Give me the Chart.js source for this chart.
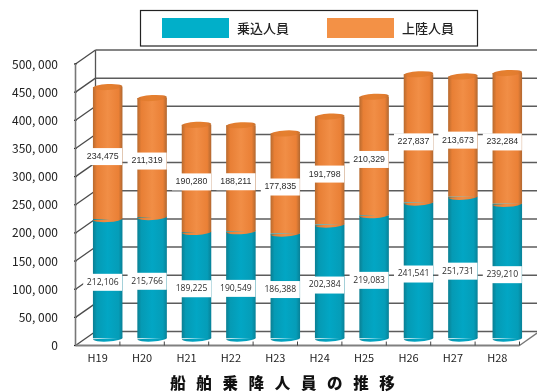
<!DOCTYPE html>
<html lang="ja">
<head>
<meta charset="utf-8">
<style>html,body{margin:0;padding:0;background:#fff}#wrap{width:537px;height:392px}</style>
<script src="https://cdn.jsdelivr.net/npm/chart.js@4/dist/chart.umd.min.js"></script>
</head>
<body>
<div id="wrap"><canvas id="c" width="537" height="392"></canvas></div>
<script>
// 船舶乗降人員 by fiscal year
const categories = ['H19','H20','H21','H22','H23','H24','H25','H26','H27','H28'];
const boarding = [212106,215766,189225,190549,186388,202384,219083,241541,251731,239210];
const landing = [234475,211319,190280,188211,177835,191798,210329,227837,213673,232284];
const seriesNames = ['乗込人員','上陸人員'];
const chartTitle = '船   舶   乗   降   人   員   の   推   移';

// Pseudo-3D depth: half of the box depth on each side of the bar plane.
const DEPTH_X = 10, DEPTH_Y = 7;
const CAP_RY = 3, CAP_TILT = -0.055;

const ramps = [
  ['#0b7d90','#059ab4','#02a6c4','#059db8','#087f95'],
  ['#b5692e','#e87f35','#f18e46','#ea8036','#ad6630']
];

function barGradient(ctx, cx, half, stops) {
  const g = ctx.createLinearGradient(cx - half, 0, cx + half, 0);
  [0, .14, .5, .86, 1].forEach((p, i) => g.addColorStop(p, stops[i]));
  return g;
}

const bars = (ds) => (c) => {
  const x = c.chart.scales.x;
  const cx = x && c.dataIndex !== undefined ? x.getPixelForValue(c.dataIndex) : NaN;
  if (!Number.isFinite(cx)) return ramps[ds][2];
  return barGradient(c.chart.ctx, cx, 15, ramps[ds]);
};

// Back wall, side wall, floor and axis lines of the box.
const boxPlugin = {
  id: 'box',
  afterLayout(chart) {
    // The y scale clips its labels to its own box, so let it reach the canvas edge.
    chart.scales.y.left = 0;
  },
  beforeDatasetsDraw(chart) {
    const {ctx, scales:{x, y}, chartArea:a} = chart;
    const left = a.left, right = a.right;
    const line = (x1, y1, x2, y2, color, w) => {
      ctx.beginPath(); ctx.moveTo(x1, y1); ctx.lineTo(x2, y2);
      ctx.strokeStyle = color; ctx.lineWidth = w; ctx.stroke();
    };
    ctx.save();
    y.ticks.forEach(t => {
      const py = y.getPixelForValue(t.value);
      line(left + DEPTH_X, py - DEPTH_Y, right + DEPTH_X + 4, py - DEPTH_Y, '#5c5c5c', 1.5);
      line(left - DEPTH_X, py + DEPTH_Y, left + DEPTH_X, py - DEPTH_Y, '#4a4a4a', 1.3);
      line(left - DEPTH_X - 1.5, py + DEPTH_Y, left - DEPTH_X + 1, py + DEPTH_Y, '#111', 1.2);
    });
    const y0 = y.getPixelForValue(0), yMax = y.getPixelForValue(y.max);
    line(left - DEPTH_X, yMax + DEPTH_Y, left - DEPTH_X, y0 + DEPTH_Y, '#777', 1.6);
    line(left + DEPTH_X, yMax - DEPTH_Y, left + DEPTH_X, y0 - DEPTH_Y, '#555', 1.3);
    line(left - DEPTH_X, y0 + DEPTH_Y, right - DEPTH_X, y0 + DEPTH_Y, '#808080', 1.8);
    line(right - DEPTH_X, y0 + DEPTH_Y, right + DEPTH_X + 4, y0 - DEPTH_Y - 3, '#777', 1.3);
    categories.forEach((_, i) => {
      const px = x.getPixelForValue(i) + x.width / categories.length / 2 - DEPTH_X;
      line(px, y0 + DEPTH_Y - 4, px, y0 + DEPTH_Y, '#444', 1);
    });
    ctx.restore();
  }
};

// Cylinder ends, value labels and legend box.
const finishPlugin = {
  id: 'finish',
  afterDatasetsDraw(chart) {
    const {ctx} = chart;
    const metas = [chart.getDatasetMeta(0), chart.getDatasetMeta(1)];
    ctx.save();
    // Rounded lower edge of each cylinder segment
    metas.forEach((meta, d) => meta.data.forEach(b => {
      const half = b.width / 2;
      ctx.beginPath();
      ctx.ellipse(b.x, b.base, half, CAP_RY, CAP_TILT, 0, Math.PI);
      ctx.fillStyle = barGradient(ctx, b.x, half, ramps[d]);
      ctx.fill();
    }));
    // Top cap
    metas[1].data.forEach(b => {
      const half = b.width / 2;
      ctx.beginPath();
      ctx.ellipse(b.x, b.y, half, CAP_RY, CAP_TILT, 0, Math.PI * 2);
      ctx.fillStyle = barGradient(ctx, b.x, half, ['#c2702f','#e27b2f','#e5802f','#e27b2f','#c2702f']);
      ctx.fill();
    });
    // Value labels sit on the front face of the box
    const fonts = ['8.6px "Open Sans"', '8.8px "Liberation Sans"'];
    [[boarding, 0], [landing, 1]].forEach(([vals, d]) => {
      metas[d].data.forEach((b, i) => {
        const cy = (b.y + b.base) / 2 + 3.5, cx = b.x - 5;
        ctx.fillStyle = '#fff';
        ctx.fillRect(cx - 19.5, cy - 8.5, 39, 17);
        ctx.fillStyle = '#2c2c2c';
        ctx.font = fonts[d];
        ctx.textAlign = 'center';
        ctx.textBaseline = 'middle';
        ctx.fillText(vals[i].toLocaleString('en-US'), cx, cy);
      });
    });
    // Legend
    ctx.strokeStyle = '#222';
    ctx.lineWidth = 1.2;
    ctx.strokeRect(140.5, 10.5, 337, 35.5);
    const entries = [[162, 237], [327, 402]];
    const swatches = ['#01afc9', '#f39146'];
    ctx.font = '500 13px "Noto Sans CJK JP"';
    ctx.textAlign = 'left';
    ctx.textBaseline = 'middle';
    entries.forEach(([sx, tx], i) => {
      ctx.fillStyle = swatches[i];
      ctx.fillRect(sx, 18, 67, 20);
      ctx.fillStyle = '#222';
      ctx.fillText(seriesNames[i], tx, 28.5);
    });
    ctx.restore();
  }
};

new Chart(document.getElementById('c'), {
  type: 'bar',
  data: {
    labels: categories,
    datasets: [
      {label: seriesNames[0], data: boarding, backgroundColor: bars(0), stack: 's'},
      {label: seriesNames[1], data: landing, backgroundColor: bars(1), stack: 's'}
    ]
  },
  plugins: [boxPlugin, finishPlugin],
  options: {
    responsive: false,
    animation: false,
    events: [],
    layout: {autoPadding: false, padding: {left: 35.5, right: 7.5, top: 57, bottom: 0}},
    datasets: {bar: {categoryPercentage: 1, barPercentage: 0.665, borderWidth: 0}},
    scales: {
      x: {
        stacked: true,
        border: {display: false},
        grid: {display: false, drawTicks: false},
        afterFit(s) { s.height = 35.5; },
        ticks: {
          autoSkip: false, maxRotation: 0, padding: 13, labelOffset: -DEPTH_X,
          color: '#222', font: {family: '"Noto Sans CJK JP"', size: 11}
        }
      },
      y: {
        stacked: true,
        min: 0, max: 500000,
        border: {display: false},
        grid: {display: false, drawTicks: false},
        afterFit(s) { s.width = 50; },
        ticks: {
          stepSize: 50000, padding: 27.5, labelOffset: DEPTH_Y,
          color: '#222', font: {family: '"Noto Sans CJK JP"', size: 12},
          callback: v => v === 0 ? '0' : v.toLocaleString('en-US').replace(',', ', ')
        }
      }
    },
    plugins: {
      legend: {display: false},
      tooltip: {enabled: false},
      title: {
        display: true, position: 'bottom', text: chartTitle,
        color: '#111', padding: 0,
        font: {family: '"Noto Sans CJK JP"', size: 15.5, weight: '900', lineHeight: 1.16}
      }
    }
  }
});
</script>
</body>
</html>
